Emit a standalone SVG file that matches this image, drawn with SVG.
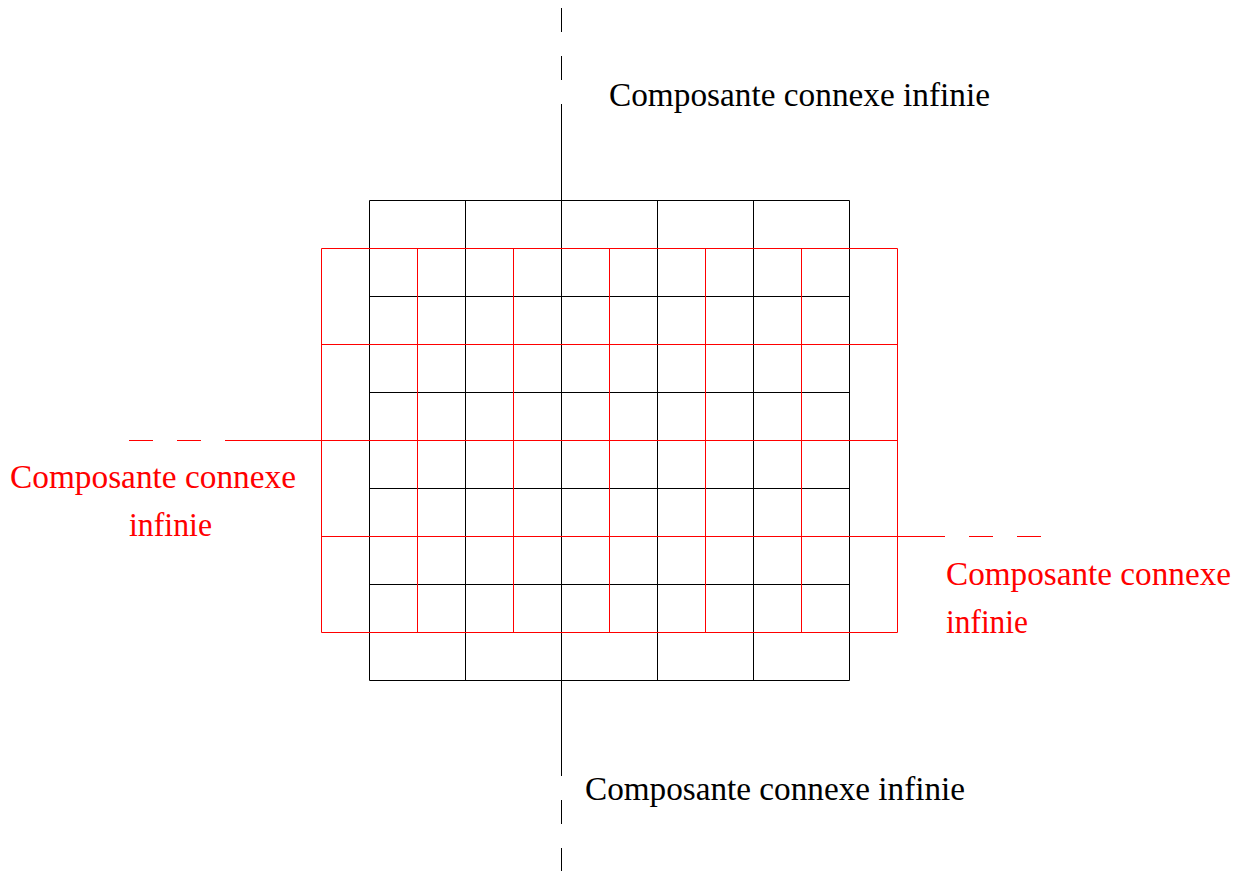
<svg xmlns="http://www.w3.org/2000/svg" width="1243" height="871" viewBox="0 0 1243 871">
<style>
.blk{stroke:#000;stroke-width:1;fill:none}
.red{stroke:#ff0000;stroke-width:1;fill:none}
.t{font-family:"Liberation Serif","DejaVu Serif",serif;font-size:33px}
.tb{fill:#000}
.tr{fill:#ff0000}
</style>
<rect width="1243" height="871" fill="#fff"/>
<g id="black-grid" class="blk">
<path d="M369.5,200.5H849.5M369.5,248.5H849.5M369.5,296.5H849.5M369.5,344.5H849.5M369.5,392.5H849.5M369.5,440.5H849.5M369.5,488.5H849.5M369.5,536.5H849.5M369.5,584.5H849.5M369.5,632.5H849.5M369.5,680.5H849.5"/>
<path d="M369.5,200.5V680.5M465.5,200.5V680.5M561.5,200.5V680.5M657.5,200.5V680.5M753.5,200.5V680.5M849.5,200.5V680.5"/>
</g>
<g id="red-grid" class="red">
<path d="M321.5,248.5H897.5M321.5,344.5H897.5M321.5,440.5H897.5M321.5,536.5H897.5M321.5,632.5H897.5"/>
<path d="M321.5,248.5V632.5M417.5,248.5V632.5M513.5,248.5V632.5M609.5,248.5V632.5M705.5,248.5V632.5M801.5,248.5V632.5M897.5,248.5V632.5"/>
</g>
<g id="connectors">
<path class="blk" d="M561.5,8V32M561.5,56V80M561.5,104V200"/>
<path class="blk" d="M561.5,680V776M561.5,800V824M561.5,848V871"/>
<path class="red" d="M129,440.5H153M177,440.5H201M225,440.5H321"/>
<path class="red" d="M897,536.5H945M969,536.5H993M1017,536.5H1041"/>
</g>
<g id="label-top"><text class="t tb" x="609" y="106" textLength="381" lengthAdjust="spacingAndGlyphs">Composante connexe infinie</text></g>
<g id="label-bottom"><text class="t tb" x="585" y="800" textLength="380" lengthAdjust="spacingAndGlyphs">Composante connexe infinie</text></g>
<g id="label-left">
<text class="t tr" x="10" y="488" textLength="286" lengthAdjust="spacingAndGlyphs">Composante connexe</text>
<text class="t tr" x="129" y="536" textLength="83" lengthAdjust="spacingAndGlyphs">infinie</text>
</g>
<g id="label-right">
<text class="t tr" x="946" y="585" textLength="285" lengthAdjust="spacingAndGlyphs">Composante connexe</text>
<text class="t tr" x="946" y="633" textLength="82" lengthAdjust="spacingAndGlyphs">infinie</text>
</g>
</svg>
